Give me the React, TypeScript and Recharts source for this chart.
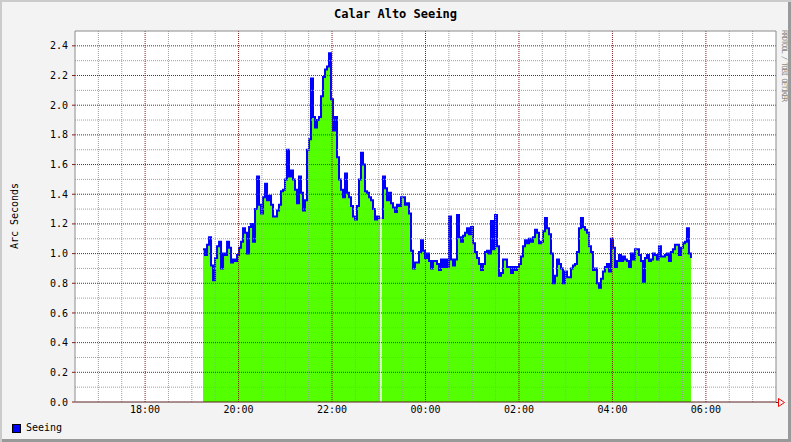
import { ComposedChart, Area, Line, XAxis, YAxis, CartesianGrid, ReferenceLine } from 'recharts';

// Seeing readings in arc seconds, evenly spaced from ~19:14 to ~05:41
const seeingEvening = [
  1.03, 0.99, 1.06, 1.11, 0.92, 0.82, 0.97, 1.05, 1.08, 0.9,
  1.0, 0.99, 1.08, 1.04, 0.94, 0.96, 0.95, 0.99, 1.04, 1.08,
  1.17, 1.14, 1.0, 1.18, 1.2, 1.08, 1.3, 1.52, 1.33, 1.27,
  1.38, 1.47, 1.36, 1.39, 1.33, 1.25, 1.25, 1.29, 1.33, 1.42,
];
const seeingPeak = [
  1.43, 1.5, 1.7, 1.52, 1.56, 1.5, 1.43, 1.34, 1.52, 1.41,
  1.29, 1.36, 1.7, 1.77, 2.18, 1.92, 1.85, 1.9, 1.92, 2.06,
  2.19, 2.24, 2.26, 2.35, 2.04, 1.83, 1.92, 1.65, 1.5, 1.43,
  1.38, 1.54, 1.41, 1.38, 1.32, 1.25, 1.23, 1.32, 1.5, 1.68,
];
// null = missing sample just after 23:00
const seeingMidnight = [
  1.6, 1.42, 1.41, 1.38, 1.36, 1.3, 1.23, 1.25, 1.24, null,
  1.52, 1.44, 1.36, 1.41, 1.34, 1.31, 1.28, 1.33, 1.32, 1.38,
  1.38, 1.33, 1.34, 1.27, 1.02, 0.9, 0.94, 0.94, 1.01, 1.09,
  1.02, 0.97, 1.0, 0.95, 0.9, 0.95, 0.95, 0.93, 0.89, 0.96,
];
const seeingNight = [
  0.91, 0.96, 0.91, 1.25, 0.96, 0.92, 0.96, 1.26, 1.11, 1.08,
  1.12, 1.14, 1.17, 1.13, 1.18, 1.07, 1.01, 0.97, 0.93, 0.89,
  0.93, 1.01, 1.02, 1.0, 1.22, 1.03, 1.26, 1.05, 0.85, 0.87,
  0.96, 0.96, 0.91, 0.91, 0.87, 0.91, 0.89, 0.91, 0.93, 0.98,
];
const seeingLate = [
  1.05, 1.09, 1.07, 1.1, 1.08, 1.11, 1.16, 1.14, 1.07, 1.08,
  1.15, 1.24, 1.17, 1.13, 1.0, 0.8, 0.85, 0.96, 0.93, 0.9,
  0.8, 0.88, 0.84, 0.84, 0.9, 0.92, 0.93, 1.01, 1.17, 1.24,
  1.18, 1.16, 1.14, 1.05, 1.01, 0.89, 0.9, 0.8, 0.77, 0.83,
];
const seeingDawn = [
  0.88, 0.91, 0.93, 0.88, 1.1, 1.04, 0.91, 0.95, 0.99, 0.95,
  0.98, 0.96, 0.95, 0.91, 1.0, 0.96, 1.03, 1.03, 0.99, 0.95,
  0.81, 0.97, 0.99, 0.95, 0.96, 1.0, 0.99, 0.96, 1.05, 0.98,
  0.98, 0.99, 1.0, 0.95, 1.01, 1.03, 1.06, 1.06, 0.99, 1.04,
  1.07, 1.08, 1.17, 1.0, 0.97,
];

const firstHour = 19.24; // 19:14
const lastHour = 29.68; // 05:41 next day

const hourTicks = [18, 20, 22, 24, 26, 28, 30];
const halfHourLines = [
  17, 17.5, 18.5, 19, 19.5, 20.5, 21, 21.5, 22.5, 23, 23.5, 24.5, 25, 25.5,
  26.5, 27, 27.5, 28.5, 29, 29.5, 30.5, 31,
];
const valueTicks = [0, 0.2, 0.4, 0.6, 0.8, 1.0, 1.2, 1.4, 1.6, 1.8, 2.0, 2.2, 2.4];
const minorValues = [0.1, 0.3, 0.5, 0.7, 0.9, 1.1, 1.3, 1.5, 1.7, 1.9, 2.1, 2.3];

const readings = [
  ...seeingEvening,
  ...seeingPeak,
  ...seeingMidnight,
  ...seeingNight,
  ...seeingLate,
  ...seeingDawn,
];
const data = readings.map((v, i) => ({
  t: firstHour + (i * (lastHour - firstHour)) / (readings.length - 1),
  seeing: v,
}));
// missing samples show up as a thin white cut through the area
const gaps = data.filter((d) => d.seeing === null).map((d) => d.t);

const mono = '"DejaVu Sans Mono", monospace';
const MGRID = '#821e1e';
const GRID = '#a0a0a0';

const fmtHour = (h: number) => `${String(h % 24).padStart(2, '0')}:00`;

export default function App() {
  return (
    <div
      style={{
        position: 'relative',
        width: 791,
        height: 442,
        background: '#f3f3f3',
        boxShadow: 'inset 2px 2px 0 #cbcbcb, inset -3px -3px 0 #999999',
        fontFamily: mono,
        overflow: 'hidden',
      }}
    >
      <style>{'body{margin:0}'}</style>

      {/* Title */}
      <div
        style={{
          position: 'absolute',
          top: 7,
          left: 0,
          width: 791,
          textAlign: 'center',
          fontSize: 12,
          fontWeight: 'bold',
          lineHeight: '14px',
        }}
      >
        Calar Alto Seeing
      </div>

      {/* Y label */}
      <div
        style={{
          position: 'absolute',
          left: 14,
          top: 216,
          transform: 'translate(-50%, -50%) rotate(-90deg)',
          fontSize: 10,
          whiteSpace: 'nowrap',
        }}
      >
        Arc Seconds
      </div>

      {/* Watermark */}
      <div
        style={{
          position: 'absolute',
          left: 780,
          top: 30,
          writingMode: 'vertical-rl',
          fontSize: 7.5,
          letterSpacing: -1.3,
          color: '#8a8a8a',
          whiteSpace: 'nowrap',
          lineHeight: '9px',
        }}
      >
        RRDTOOL / TOBI OETIKER
      </div>

      <ComposedChart width={791} height={442} data={data} margin={{ top: 31, right: 0, bottom: 0, left: 0 }}>
        <CartesianGrid horizontal={false} vertical={false} fill="#ffffff" />
        <XAxis
          dataKey="t"
          type="number"
          domain={[16.5, 31.5]}
          ticks={hourTicks}
          tickFormatter={fmtHour}
          allowDataOverflow
          height={40}
          tickSize={2}
          tickMargin={2}
          tickLine={false}
          axisLine={{ stroke: '#5a2020' }}
          tick={{ fontSize: 10, fontFamily: mono, fill: '#000' }}
        />
        <YAxis
          type="number"
          domain={[0, 2.5]}
          ticks={valueTicks}
          tickFormatter={(v: number) => v.toFixed(1)}
          width={75}
          tickSize={3}
          tickMargin={4}
          tickLine={{ stroke: MGRID }}
          axisLine={{ stroke: '#8c8c8c' }}
          tick={{ fontSize: 10, fontFamily: mono, fill: '#000' }}
        />
        <YAxis
          yAxisId="right"
          orientation="right"
          type="number"
          domain={[0, 2.5]}
          ticks={valueTicks}
          tickFormatter={() => ''}
          width={15}
          tickSize={3}
          tickLine={{ stroke: MGRID }}
          axisLine={{ stroke: '#8c8c8c' }}
        />
        <Area
          type="stepAfter"
          dataKey="seeing"
          stroke="none"
          fill="#54ff00"
          fillOpacity={1}
          connectNulls
          isAnimationActive={false}
          activeDot={false}
        />
        <Line
          type="stepAfter"
          dataKey="seeing"
          stroke="#0000ff"
          strokeWidth={2}
          dot={false}
          activeDot={false}
          connectNulls
          isAnimationActive={false}
        />
        {gaps.map((t) => (
          <ReferenceLine key={`gap${t}`} x={t} stroke="#ffffff" strokeWidth={1.5} />
        ))}
        {minorValues.map((v) => (
          <ReferenceLine key={`my${v}`} y={v} stroke={GRID} strokeDasharray="1 1" />
        ))}
        {halfHourLines.map((h) => (
          <ReferenceLine key={`mx${h}`} x={h} stroke={GRID} strokeDasharray="1 1" />
        ))}
        {valueTicks.slice(1).map((v) => (
          <ReferenceLine key={`My${v}`} y={v} stroke={MGRID} strokeDasharray="1 1" />
        ))}
        {hourTicks.map((h) => (
          <ReferenceLine key={`Mx${h}`} x={h} stroke={MGRID} strokeDasharray="1 1" />
        ))}
        <ReferenceLine y={2.5} stroke="#8c8c8c" />
      </ComposedChart>

      {/* axis arrow */}
      <svg style={{ position: 'absolute', left: 0, top: 0 }} width={791} height={442}>
        <line x1={776} y1={402.5} x2={779} y2={402.5} stroke="#5a2020" />
        <polygon points="778.5,398.5 784.5,402.5 778.5,406.5" fill="none" stroke="#ff0000" />
      </svg>

      {/* Legend */}
      <div
        style={{
          position: 'absolute',
          left: 12,
          top: 424,
          width: 7,
          height: 7,
          background: '#0000ff',
          border: '1px solid #000',
        }}
      />
      <div style={{ position: 'absolute', left: 26, top: 421, fontSize: 10, lineHeight: '14px' }}>Seeing</div>
    </div>
  );
}
